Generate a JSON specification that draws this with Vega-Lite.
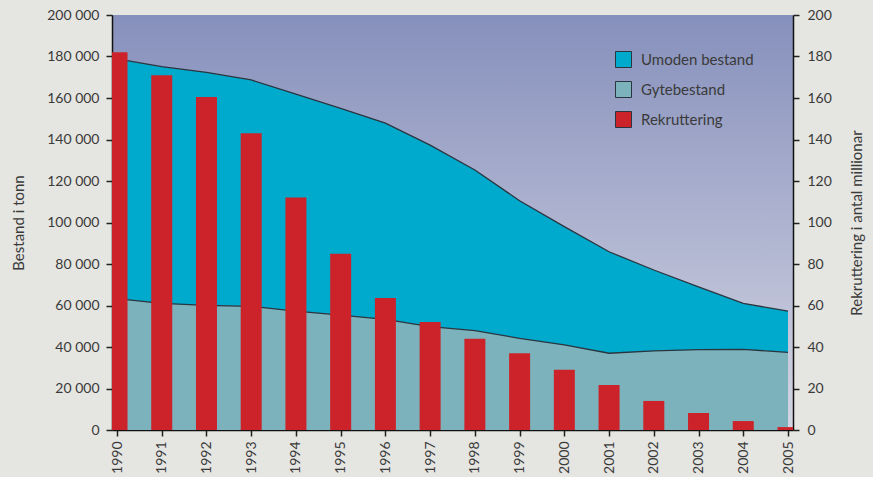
{
  "$schema": "https://vega.github.io/schema/vega-lite/v6.json",
  "width": 681,
  "height": 415,
  "autosize": {"type": "none"},
  "padding": {"left": 112, "top": 15, "right": 80, "bottom": 47},
  "background": "#e5e5e1",
  "config": {
    "font": "Lato",
    "view": {
      "stroke": null,
      "fill": {
        "gradient": "linear",
        "x1": 0, "y1": 0, "x2": 0, "y2": 1,
        "stops": [
          {"offset": 0, "color": "#8690bc"},
          {"offset": 1, "color": "#d5d6e3"}
        ]
      }
    },
    "axis": {
      "domainColor": "#111111",
      "domainWidth": 1.5,
      "tickColor": "#222222",
      "tickWidth": 1.5,
      "tickSize": 6,
      "labelFont": "Lato",
      "labelFontSize": 14,
      "labelColor": "#3a3a3a",
      "titleFont": "Lato",
      "titleFontSize": 15,
      "titleFontWeight": "normal",
      "titleColor": "#3a3a3a",
      "grid": false
    },
    "legend": {
      "labelFont": "Lato",
      "labelFontSize": 15,
      "labelColor": "#3a3a3a"
    }
  },
  "datasets": {
    "bestand": [
      {"aar": 1990, "serie": "Umoden bestand", "tonn": 178900},
      {"aar": 1991, "serie": "Umoden bestand", "tonn": 175100},
      {"aar": 1992, "serie": "Umoden bestand", "tonn": 172400},
      {"aar": 1993, "serie": "Umoden bestand", "tonn": 168700},
      {"aar": 1994, "serie": "Umoden bestand", "tonn": 161900},
      {"aar": 1995, "serie": "Umoden bestand", "tonn": 155000},
      {"aar": 1996, "serie": "Umoden bestand", "tonn": 147900},
      {"aar": 1997, "serie": "Umoden bestand", "tonn": 137300},
      {"aar": 1998, "serie": "Umoden bestand", "tonn": 125300},
      {"aar": 1999, "serie": "Umoden bestand", "tonn": 110500},
      {"aar": 2000, "serie": "Umoden bestand", "tonn": 98000},
      {"aar": 2001, "serie": "Umoden bestand", "tonn": 85900},
      {"aar": 2002, "serie": "Umoden bestand", "tonn": 77100},
      {"aar": 2003, "serie": "Umoden bestand", "tonn": 69000},
      {"aar": 2004, "serie": "Umoden bestand", "tonn": 61000},
      {"aar": 2005, "serie": "Umoden bestand", "tonn": 57300},
      {"aar": 1990, "serie": "Gytebestand", "tonn": 63300},
      {"aar": 1991, "serie": "Gytebestand", "tonn": 61000},
      {"aar": 1992, "serie": "Gytebestand", "tonn": 60100},
      {"aar": 1993, "serie": "Gytebestand", "tonn": 59600},
      {"aar": 1994, "serie": "Gytebestand", "tonn": 57300},
      {"aar": 1995, "serie": "Gytebestand", "tonn": 55400},
      {"aar": 1996, "serie": "Gytebestand", "tonn": 53300},
      {"aar": 1997, "serie": "Gytebestand", "tonn": 49800},
      {"aar": 1998, "serie": "Gytebestand", "tonn": 47900},
      {"aar": 1999, "serie": "Gytebestand", "tonn": 44200},
      {"aar": 2000, "serie": "Gytebestand", "tonn": 41000},
      {"aar": 2001, "serie": "Gytebestand", "tonn": 37000},
      {"aar": 2002, "serie": "Gytebestand", "tonn": 38100},
      {"aar": 2003, "serie": "Gytebestand", "tonn": 38700},
      {"aar": 2004, "serie": "Gytebestand", "tonn": 38900},
      {"aar": 2005, "serie": "Gytebestand", "tonn": 37400}
    ],
    "rekruttering": [
      {"aar": 1990, "serie": "Rekruttering", "mill": 182},
      {"aar": 1991, "serie": "Rekruttering", "mill": 171},
      {"aar": 1992, "serie": "Rekruttering", "mill": 160.5},
      {"aar": 1993, "serie": "Rekruttering", "mill": 143},
      {"aar": 1994, "serie": "Rekruttering", "mill": 112},
      {"aar": 1995, "serie": "Rekruttering", "mill": 85},
      {"aar": 1996, "serie": "Rekruttering", "mill": 63.6},
      {"aar": 1997, "serie": "Rekruttering", "mill": 52},
      {"aar": 1998, "serie": "Rekruttering", "mill": 44},
      {"aar": 1999, "serie": "Rekruttering", "mill": 37},
      {"aar": 2000, "serie": "Rekruttering", "mill": 29},
      {"aar": 2001, "serie": "Rekruttering", "mill": 21.7},
      {"aar": 2002, "serie": "Rekruttering", "mill": 14},
      {"aar": 2003, "serie": "Rekruttering", "mill": 8.2},
      {"aar": 2004, "serie": "Rekruttering", "mill": 4.3},
      {"aar": 2005, "serie": "Rekruttering", "mill": 1.4}
    ]
  },
  "layer": [
    {
      "layer": [
        {
          "data": {"name": "bestand"},
          "transform": [{"filter": "datum.serie === 'Umoden bestand'"}],
          "mark": {"type": "area", "opacity": 1},
          "encoding": {
            "x": {
              "field": "aar", "type": "quantitative",
              "scale": {"domain": [1990, 2005], "nice": false, "zero": false},
              "axis": {
                "title": null,
                "values": [1990,1991,1992,1993,1994,1995,1996,1997,1998,1999,2000,2001,2002,2003,2004,2005],
                "format": "d",
                "labelAngle": -90,
                "labelPadding": 5,
                "labelFlush": false,
                "labelOverlap": false
              }
            },
            "y": {
              "field": "tonn", "type": "quantitative", "stack": null,
              "scale": {"domain": [0, 200000], "nice": false},
              "axis": {
                "orient": "left",
                "title": "Bestand i tonn",
                "values": [0,20000,40000,60000,80000,100000,120000,140000,160000,180000,200000],
                "labelExpr": "replace(format(datum.value, ','), ',', ' ')",
                "labelPadding": 7,
                "titlePadding": 20
              }
            },
            "color": {
              "field": "serie", "type": "nominal",
              "scale": {
                "domain": ["Umoden bestand", "Gytebestand", "Rekruttering"],
                "range": ["#00aacc", "#7bb2bb", "#cc232b"]
              },
              "legend": {
                "title": null,
                "orient": "none",
                "legendX": 503,
                "legendY": 36,
                "symbolType": "square",
                "symbolSize": 256,
                "symbolStrokeColor": "#2a3540",
                "symbolStrokeWidth": 1,
                "symbolOpacity": 1,
                "rowPadding": 9,
                "labelOffset": 9
              }
            }
          }
        },
        {
          "data": {"name": "bestand"},
          "transform": [{"filter": "datum.serie === 'Gytebestand'"}],
          "mark": {"type": "area", "opacity": 1},
          "encoding": {
            "x": {"field": "aar", "type": "quantitative"},
            "y": {"field": "tonn", "type": "quantitative", "stack": null},
            "color": {"field": "serie", "type": "nominal"}
          }
        },
        {
          "data": {"name": "bestand"},
          "mark": {"type": "line", "color": "#2b3540", "strokeWidth": 1.3},
          "encoding": {
            "x": {"field": "aar", "type": "quantitative"},
            "y": {"field": "tonn", "type": "quantitative", "stack": null},
            "detail": {"field": "serie", "type": "nominal"}
          }
        }
      ]
    },
    {
      "data": {"name": "rekruttering"},
      "mark": {"type": "bar", "size": 21, "clip": true},
      "encoding": {
        "x": {"field": "aar", "type": "quantitative"},
        "y": {
          "field": "mill", "type": "quantitative",
          "scale": {"domain": [0, 200], "nice": false},
          "axis": {
            "orient": "right",
            "title": "Rekruttering i antal millionar",
            "titleAngle": 270,
            "values": [0,20,40,60,80,100,120,140,160,180,200],
            "labelPadding": 8,
            "titlePadding": 33
          }
        },
        "color": {"field": "serie", "type": "nominal"}
      }
    }
  ],
  "resolve": {"scale": {"y": "independent"}}
}
